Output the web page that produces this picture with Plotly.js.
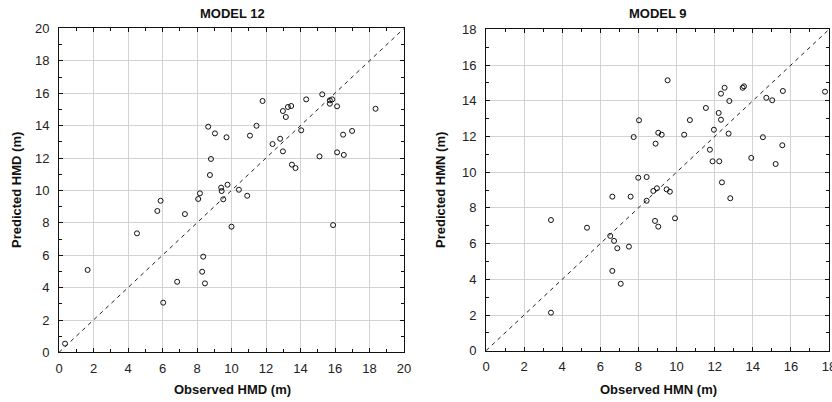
<!DOCTYPE html>
<html>
<head>
<meta charset="utf-8">
<script src="https://cdn.plot.ly/plotly-3.0.1.min.js"></script>
<style>html,body{margin:0;padding:0;background:#fff;}#chart{width:832px;height:402px;}</style>
</head>
<body>
<div id="chart"></div>
<script>
// MODEL 12 (HMD): observed vs predicted
const hmdObserved = [0.35,1.66,4.52,5.70,5.89,6.04,6.85,7.30,8.07,8.17,8.36,8.30,8.46,8.65,9.04,9.71,8.81,8.75,9.40,9.43,9.77,9.52,10.43,10.91,10.0,11.80,11.45,11.07,12.98,13.27,13.46,13.15,14.33,15.26,15.70,15.84,15.70,16.12,18.35,14.04,12.38,12.82,12.98,16.47,16.99,15.10,16.12,16.51,13.50,13.71,15.89];
const hmdPredicted = [0.54,5.09,7.35,8.73,9.36,3.07,4.36,8.54,9.47,9.82,5.91,4.98,4.26,13.93,13.52,13.28,11.94,10.95,10.17,9.96,10.35,9.45,10.04,9.67,7.76,15.52,13.99,13.38,14.90,15.15,15.21,14.53,15.62,15.93,15.56,15.62,15.35,15.19,15.04,13.71,12.86,13.19,12.41,13.44,13.67,12.10,12.35,12.19,11.59,11.38,7.86];
// MODEL 9 (HMN): observed vs predicted
const hmnObserved = [3.41,3.41,5.30,6.52,6.72,6.89,7.50,6.63,7.07,6.63,7.59,8.43,7.99,8.43,8.78,8.97,9.48,9.65,8.87,9.04,9.92,8.03,7.75,9.53,9.04,9.22,8.90,10.40,10.70,11.54,12.33,12.52,12.77,12.21,12.33,11.96,12.73,13.47,13.54,14.71,15.02,15.58,17.79,11.75,11.89,12.24,14.53,15.55,13.92,15.20,12.38,12.82];
const hmnPredicted = [7.32,2.13,6.89,6.43,6.15,5.74,5.83,4.47,3.75,8.63,8.63,8.40,9.69,9.73,8.95,9.10,9.04,8.91,7.27,6.95,7.42,12.91,11.97,15.15,12.21,12.10,11.60,12.10,12.92,13.60,14.40,14.73,13.99,13.32,12.94,12.38,12.16,14.73,14.81,14.17,14.03,14.55,14.51,11.26,10.61,10.61,11.96,11.51,10.80,10.46,9.43,8.54];
// 1:1 reference lines
const lineLeft = [0, 20];
const lineRight = [0, 18];
const tickLeft = [0,2,4,6,8,10,12,14,16,18,20];
const tickRight = [0,2,4,6,8,10,12,14,16,18];

const font = {family: 'Liberation Sans, Arial, sans-serif', color: '#222'};
const mk = {symbol: 'circle-open', size: 5, color: '#111', line: {width: 1, color: '#111'}};

const traces = [
  {x: lineLeft, y: lineLeft, xaxis: 'x', yaxis: 'y', mode: 'lines', line: {color: '#222', width: 1, dash: '4px,4px'}, hoverinfo: 'skip'},
  {x: hmdObserved, y: hmdPredicted, xaxis: 'x', yaxis: 'y', mode: 'markers', marker: mk},
  {x: lineRight, y: lineRight, xaxis: 'x2', yaxis: 'y2', mode: 'lines', line: {color: '#222', width: 1, dash: '4px,4px'}, hoverinfo: 'skip'},
  {x: hmnObserved, y: hmnPredicted, xaxis: 'x2', yaxis: 'y2', mode: 'markers', marker: mk}
];

function ax(range, vals, domain, anchor, isX) {
  return {
    domain: domain, anchor: anchor, range: range, autorange: false,
    tickvals: vals, ticktext: vals.map(String),
    showline: true, linecolor: '#111', linewidth: 1, mirror: 'ticks',
    ticks: 'inside', ticklen: 4, tickcolor: '#111',
    showgrid: true, gridcolor: '#d3d3d3', gridwidth: 1, zeroline: false,
    tickfont: {family: font.family, size: 13, color: '#222'},
    ticklabelstandoff: isX ? 4 : 6,
    ticklabeloverflow: 'allow',
    minor: {dtick: 1, ticks: 'inside', ticklen: 3, tickcolor: '#111', showgrid: false}
  };
}

function note(text, x, y, angle) {
  return {text: text, xref: 'paper', yref: 'paper', x: x/832, y: (402-y)/402,
    xanchor: 'center', yanchor: 'middle', textangle: angle || 0, showarrow: false,
    font: {family: font.family, size: 13, color: '#111'}};
}

const layout = {
  width: 832, height: 402,
  margin: {l: 0, r: 0, t: 0, b: 0},
  paper_bgcolor: '#fff', plot_bgcolor: '#fff',
  showlegend: false,
  font: font,
  xaxis: ax([0, 20], tickLeft, [59/832, 404/832], 'y', true),
  yaxis: ax([0, 20], tickLeft, [(402-352.4)/402, (402-28.4)/402], 'x', false),
  xaxis2: ax([0, 18], tickRight, [486/832, 829/832], 'y2', true),
  yaxis2: ax([0, 18], tickRight, [(402-350.7)/402, (402-29.4)/402], 'x2', false),
  annotations: [
    note('<b>MODEL 12</b>', 232, 13),
    note('<b>MODEL 9</b>', 658, 13),
    note('<b>Observed HMD (m)</b>', 232, 389),
    note('<b>Observed HMN (m)</b>', 658, 389),
    note('<b>Predicted HMD (m)</b>', 17, 190, -90),
    note('<b>Predicted HMN (m)</b>', 441, 190, -90)
  ]
};

Plotly.newPlot('chart', traces, layout, {staticPlot: true, displayModeBar: false});
</script>
</body>
</html>
